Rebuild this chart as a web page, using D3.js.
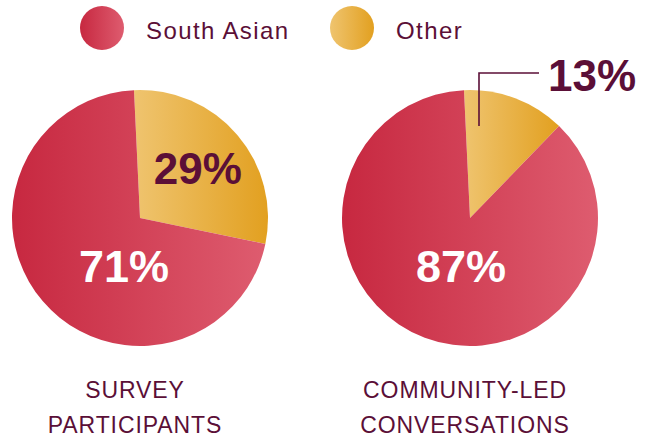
<!doctype html>
<html>
<head>
<script src="https://d3js.org/d3.v7.min.js"></script>
<style>
  body { margin: 0; background: #fff; }
  svg text { font-family: "Liberation Sans", Arial, sans-serif; }
</style>
</head>
<body>
<svg id="chart"></svg>
<script>
    // data
    var groups = ["SURVEY PARTICIPANTS", "COMMUNITY-LED CONVERSATIONS"];
    var groupLines = [["SURVEY", "PARTICIPANTS"], ["COMMUNITY-LED", "CONVERSATIONS"]];
    var categories = ["South Asian", "Other"];
    var southAsian = [71, 87];
    var other = [29, 13];

    var width = 650, height = 437;
    var maroon = "#5b0f37";
    var radius = 128;
    var startOffset = -0.047;

    var svg = d3.select("#chart")
        .attr("width", width)
        .attr("height", height);

    var defs = svg.append("defs");
    function grad(id, c0, c1) {
        var g = defs.append("linearGradient").attr("id", id)
            .attr("x1", "0").attr("y1", "0").attr("x2", "1").attr("y2", "0");
        g.append("stop").attr("offset", "0").attr("stop-color", c0);
        g.append("stop").attr("offset", "1").attr("stop-color", c1);
    }
    grad("gradRed", "#c72840", "#de5c6f");
    grad("gradGold", "#efc46f", "#e2a020");
    var fills = { "South Asian": "url(#gradRed)", "Other": "url(#gradGold)" };

    // legend
    var legendX = d3.scalePoint().domain(categories).range([102, 352]);
    var legend = svg.selectAll(".legend")
        .data(categories)
        .enter().append("g")
        .attr("class", "legend")
        .attr("transform", function (d) { return "translate(" + legendX(d) + ",28)"; });
    legend.append("circle")
        .attr("r", 22)
        .attr("fill", function (d) { return fills[d]; });
    legend.append("text")
        .attr("x", 44)
        .attr("y", 11)
        .attr("fill", maroon)
        .style("font-size", "24px")
        .style("letter-spacing", "1.4px")
        .text(function (d) { return d; });

    var centerX = d3.scalePoint().domain(groups).range([140, 470]);
    var cy = 218;

    var pie = d3.pie()
        .sort(null)
        .value(function (d) { return d.value; })
        .startAngle(startOffset)
        .endAngle(2 * Math.PI + startOffset);
    var arc = d3.arc().innerRadius(0).outerRadius(radius);
    var labelArc = d3.arc().innerRadius(76).outerRadius(76);

    groups.forEach(function (gname, i) {
        var cx = centerX(gname);
        var slices = [
            { key: "Other", value: other[i] },
            { key: "South Asian", value: southAsian[i] }
        ];
        var g = svg.append("g").attr("transform", "translate(" + cx + "," + cy + ")");
        var arcs = pie(slices);

        g.selectAll("path")
            .data(arcs)
            .enter().append("path")
            .attr("d", arc)
            .attr("fill", function (d) { return fills[d.data.key]; });

        // big slice label
        g.append("text")
            .attr("x", i === 0 ? -16 : -9)
            .attr("y", 64)
            .attr("text-anchor", "middle")
            .attr("fill", "#fff")
            .style("font-size", "45px")
            .style("font-weight", "bold")
            .text(southAsian[i] + "%");

        // small slice label
        var small = arcs[0];
        if (small.endAngle - small.startAngle > 1) {
            var c = labelArc.centroid(small);
            g.append("text")
                .attr("x", c[0])
                .attr("y", c[1] + 15)
                .attr("text-anchor", "middle")
                .attr("fill", maroon)
                .style("font-size", "44px")
                .style("font-weight", "bold")
                .text(other[i] + "%");
        } else {
            g.append("path")
                .attr("d", "M9,-92V-145H69")
                .attr("fill", "none")
                .attr("stroke", maroon)
                .attr("stroke-width", 1.6);
            g.append("text")
                .attr("x", 122)
                .attr("y", -127)
                .attr("text-anchor", "middle")
                .attr("fill", maroon)
                .style("font-size", "44px")
                .style("font-weight", "bold")
                .text(other[i] + "%");
        }

        // title
        var t = svg.append("text")
            .attr("text-anchor", "middle")
            .attr("fill", maroon)
            .style("font-size", "23px")
            .style("letter-spacing", "0.9px");
        groupLines[i].forEach(function (line, j) {
            t.append("tspan")
                .attr("x", cx - 5)
                .attr("y", 398 + j * 35)
                .text(line);
        });
    });
</script>
</body>
</html>
